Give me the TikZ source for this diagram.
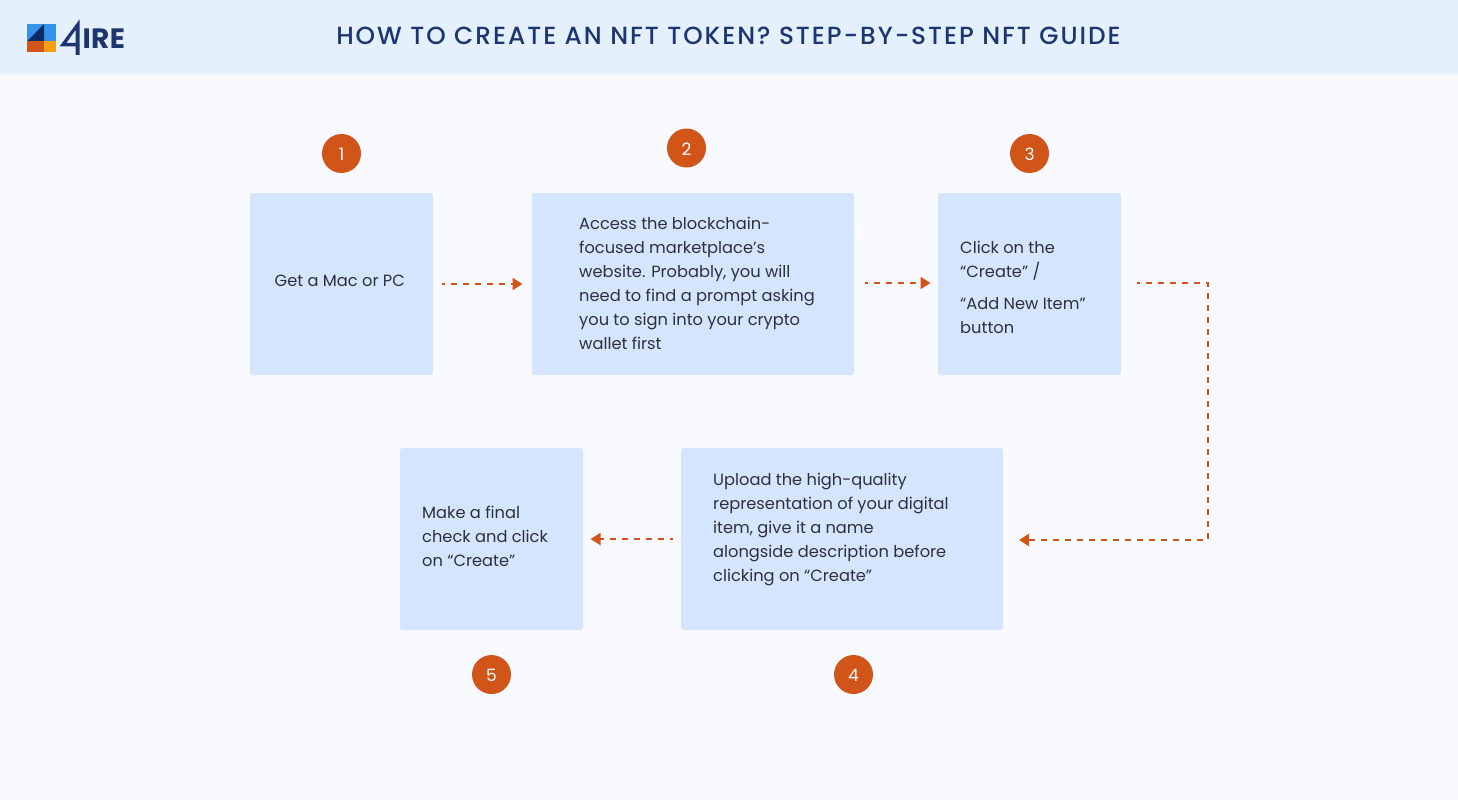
\documentclass[tikz,border=0pt]{standalone}
\usepackage{fontspec}
\setmainfont{Poppins}
\newfontfamily\titlefont[LetterSpace=8]{Poppins Medium}
\usetikzlibrary{arrows.meta}
\definecolor{pagebg}{HTML}{F8FAFF}
\definecolor{headbg}{HTML}{E5F0FD}
\definecolor{boxbg}{HTML}{D5E5FE}
\definecolor{accent}{HTML}{D15519}
\definecolor{navy}{HTML}{1D3570}
\definecolor{bodytxt}{HTML}{2E3138}
\definecolor{logoblue}{HTML}{3494EC}
\definecolor{logodark}{HTML}{102A66}
\definecolor{logoamber}{HTML}{F59E12}
\tikzset{
  x=1pt,y=-1pt,
  stepbox/.style={fill=boxbg,rounded corners=2.5pt,draw=none},
  badge/.style={circle,fill=accent,minimum size=39pt,inner sep=0,text=white,text height=14pt,text depth=0pt,font=\fontsize{17}{17}\selectfont},
  boxtext/.style={anchor=north west,inner sep=0,align=left,text=bodytxt,font=\fontsize{16.25}{24}\selectfont},
  flow/.style={draw=accent,line width=1.9pt,dash pattern=on 6.5pt off 5.5pt,dash phase=3.2pt,-{Triangle[length=10pt,width=12pt,fill=accent]}},
}
\begin{document}
\begin{tikzpicture}
\useasboundingbox (0,0) rectangle (1458,800);
\fill[pagebg] (0,0) rectangle (1458,800);
\fill[headbg] (0,0) rectangle (1458,74);
% logo
\fill[logoblue] (27,24) rectangle (55.5,41.5);
\fill[logodark] (27,41.5) -- (44,24) -- (44,41.5) -- cycle;
\fill[accent] (27,41.5) rectangle (44,52.5);
\fill[logoamber] (44,41.5) rectangle (55.5,52.5);
\fill[navy,even odd rule] (79.5,19.5) -- (79.5,55) -- (75.5,55) -- (75.5,46.5) -- (59.5,46.5) -- cycle
  (75.5,30) -- (66.5,42.8) -- (75.5,42.8) -- cycle;
\node[anchor=west,inner sep=0,text=navy,font=\fontsize{28}{28}\selectfont\bfseries] (logotext) at (82.5,38.5) {\addfontfeature{LetterSpace=1}IRE};
% title
\node[text=navy,inner sep=0,font=\fontsize{24.8}{25}\selectfont] (title) at (728.5,35.5) {\titlefont HOW TO CREATE AN NFT TOKEN? STEP-BY-STEP NFT GUIDE};
% boxes
\path[stepbox] (250,193) rectangle (433,375);
\path[stepbox] (532,193) rectangle (854,375);
\path[stepbox] (938,193) rectangle (1121,375);
\path[stepbox] (681,448) rectangle (1003,630);
\path[stepbox] (400,448) rectangle (583,630);
% texts
\node[boxtext] (t1) at (274.5,275) {Get a Mac or PC};
\node[boxtext] (t2) at (579,217) {Access the blockchain-\\focused marketplace’s\\website. Probably, you will\\need to find a prompt asking\\you to sign into your crypto\\wallet first};
\node[boxtext] (t3) at (960,241) {Click on the\\“Create” /\\[8pt]“Add New Item”\\button};
\node[boxtext] (t4) at (713,473) {Upload the high-quality\\representation of your digital\\item, give it a name\\alongside description before\\clicking on “Create”};
\node[boxtext] (t5) at (422,506) {Make a final\\check and click\\on “Create”};
\node[text=white,inner sep=0,font=\fontsize{16}{24}\selectfont] (stray) at (859,235) {2};
% badges
\node[badge] (b1) at (341.5,153.5) {1};
\node[badge] (b2) at (686.5,148) {2};
\node[badge] (b3) at (1029.5,153.5) {3};
\node[badge] (b4) at (853.5,674.5) {4};
\node[badge] (b5) at (491.5,674.5) {5};
% connector ends
\coordinate (a1s) at (442,284); \coordinate (a1e) at (522.5,284);
\coordinate (a2s) at (865,283); \coordinate (a2e) at (930.5,283);
\coordinate (a3s) at (1137,283); \coordinate (a3c1) at (1208,283); \coordinate (a3c2) at (1208,540); \coordinate (a3e) at (1019,540);
\coordinate (a4s) at (673,539); \coordinate (a4e) at (590.5,539);
\draw[flow] (a1s) -- (a1e);
\draw[flow] (a2s) -- (a2e);
\draw[flow] (a3s) -- (a3c1) -- (a3c2) -- (a3e);
\draw[flow] (a4s) -- (a4e);
\end{tikzpicture}
\end{document}
